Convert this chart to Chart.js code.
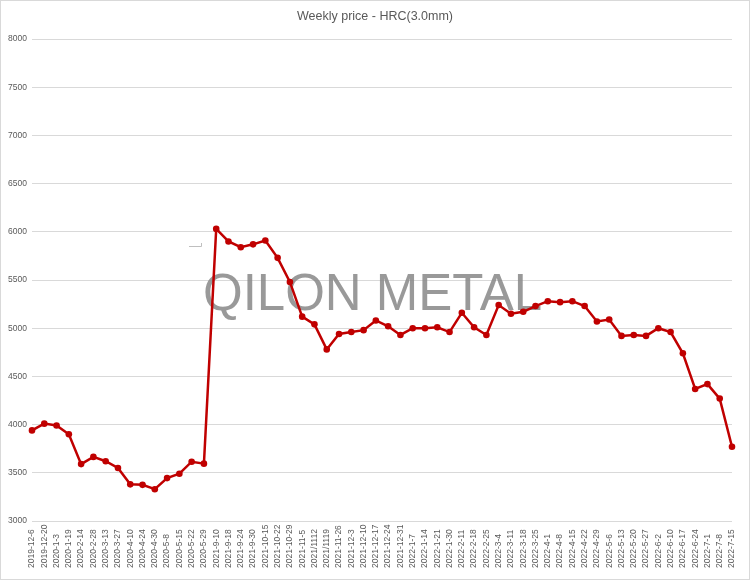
<!DOCTYPE html>
<html>
<head>
<meta charset="utf-8">
<script src="https://cdn.jsdelivr.net/npm/chart.js@4.4.0/dist/chart.umd.min.js"></script>
<style>
  body { margin: 0; background: #fff; }
  #wrap { width: 750px; height: 580px; position: relative; }
</style>
</head>
<body>
<div id="wrap"><canvas id="myChart" width="750" height="580"></canvas></div>
<script>
const dates = [
    "2019-12-6", "2019-12-20", "2020-1-3", "2020-1-19", "2020-2-14", "2020-2-28", "2020-3-13", "2020-3-27",
    "2020-4-10", "2020-4-24", "2020-4-30", "2020-5-8", "2020-5-15", "2020-5-22", "2020-5-29",
    "2021-9-10", "2021-9-18", "2021-9-24", "2021-9-30", "2021-10-15", "2021-10-22", "2021-10-29", "2021-11-5",
    "2021/1112", "2021/1119", "2021-11-26", "2021-12-3", "2021-12-10", "2021-12-17", "2021-12-24", "2021-12-31",
    "2022-1-7", "2022-1-14", "2022-1-21", "2022-1-30", "2022-2-11", "2022-2-18", "2022-2-25", "2022-3-4",
    "2022-3-11", "2022-3-18", "2022-3-25", "2022-4-1", "2022-4-8", "2022-4-15", "2022-4-22", "2022-4-29",
    "2022-5-6", "2022-5-13", "2022-5-20", "2022-5-27", "2022-6-2", "2022-6-10", "2022-6-17", "2022-6-24",
    "2022-7-1", "2022-7-8", "2022-7-15"
];
const prices = [
    3940, 4010, 3990, 3900, 3590, 3665, 3620, 3550, 3380, 3375, 3330, 3445, 3490, 3615, 3595,
    6030, 5900, 5840, 5870, 5910, 5730, 5480, 5120, 5040, 4780, 4940, 4960, 4980, 5080, 5020, 4930,
    5000, 5000, 5010, 4960, 5160, 5010, 4930, 5240, 5150, 5170, 5230, 5280, 5270, 5280, 5230, 5070,
    5090, 4920, 4930, 4920, 5000, 4960, 4740, 4370, 4420, 4270, 3770
];
const yTicks = [3000, 8000, 500]; // min, max, step

const chartTitle = "Weekly price - HRC(3.0mm)";
const watermark = "QILON METAL";

// watermark behind the line, frame and rotated date labels
const extras = {
    id: 'extras',
    beforeDatasetsDraw(chart) {
        const ctx = chart.ctx;
        ctx.save();
        ctx.font = '51px "Liberation Sans"';
        ctx.fillStyle = 'rgba(135,135,135,0.85)';
        ctx.textAlign = 'left';
        ctx.textBaseline = 'alphabetic';
        ctx.fillText(watermark, 203, 310);
        ctx.strokeStyle = '#bfbfbf';
        ctx.lineWidth = 1;
        ctx.beginPath();
        ctx.moveTo(201.5, 243);
        ctx.lineTo(201.5, 246.5);
        ctx.lineTo(189, 246.5);
        ctx.stroke();
        ctx.restore();
    },
    afterDraw(chart) {
        const ctx = chart.ctx;
        const xs = chart.scales.x;
        ctx.save();
        ctx.font = '8.5px "Liberation Sans"';
        ctx.fillStyle = '#595959';
        ctx.textAlign = 'left';
        ctx.textBaseline = 'middle';
        dates.forEach((d, i) => {
            ctx.save();
            ctx.translate(xs.getPixelForTick(i), 568);
            ctx.rotate(-Math.PI / 2);
            ctx.fillText(d, 0, 0);
            ctx.restore();
        });
        ctx.strokeStyle = '#d9d9d9';
        ctx.lineWidth = 1;
        ctx.strokeRect(0.5, 0.5, chart.width - 1, chart.height - 1);
        ctx.restore();
    }
};

const ctx = document.getElementById('myChart');
new Chart(ctx, {
    type: 'line',
    data: {
        labels: dates,
        datasets: [{
            data: prices,
            borderColor: '#c00000',
            backgroundColor: '#c00000',
            borderWidth: 2.5,
            pointRadius: 3.3,
            pointBorderWidth: 0,
            tension: 0
        }]
    },
    options: {
        responsive: false,
        animation: false,
        layout: { padding: 0 },
        plugins: {
            legend: { display: false },
            tooltip: { enabled: false },
            title: {
                display: true,
                text: chartTitle,
                color: '#595959',
                font: { family: 'Liberation Sans', size: 12.5, weight: 'normal' },
                padding: { top: 9.5, bottom: 14.5 }
            }
        },
        scales: {
            x: {
                offset: false,
                grid: { display: false },
                border: { display: false },
                ticks: { display: false },
                afterFit: (s) => { s.height = 59; }
            },
            y: {
                min: yTicks[0],
                max: yTicks[1],
                ticks: {
                    stepSize: yTicks[2],
                    color: '#595959',
                    padding: 5,
                    font: { family: 'Liberation Sans', size: 8.5 },
                    callback: (v) => String(v)
                },
                grid: { color: '#d9d9d9', lineWidth: 1, drawTicks: false },
                border: { display: false },
                afterFit: (s) => { s.width = 32; }
            },
            // empty right-hand spacer so the title stays centred on the canvas
            spacer: {
                type: 'linear',
                position: 'right',
                grid: { display: false },
                border: { display: false },
                ticks: { display: false },
                afterFit: (s) => { s.width = 18; }
            }
        }
    },
    plugins: [extras]
});
</script>
</body>
</html>
